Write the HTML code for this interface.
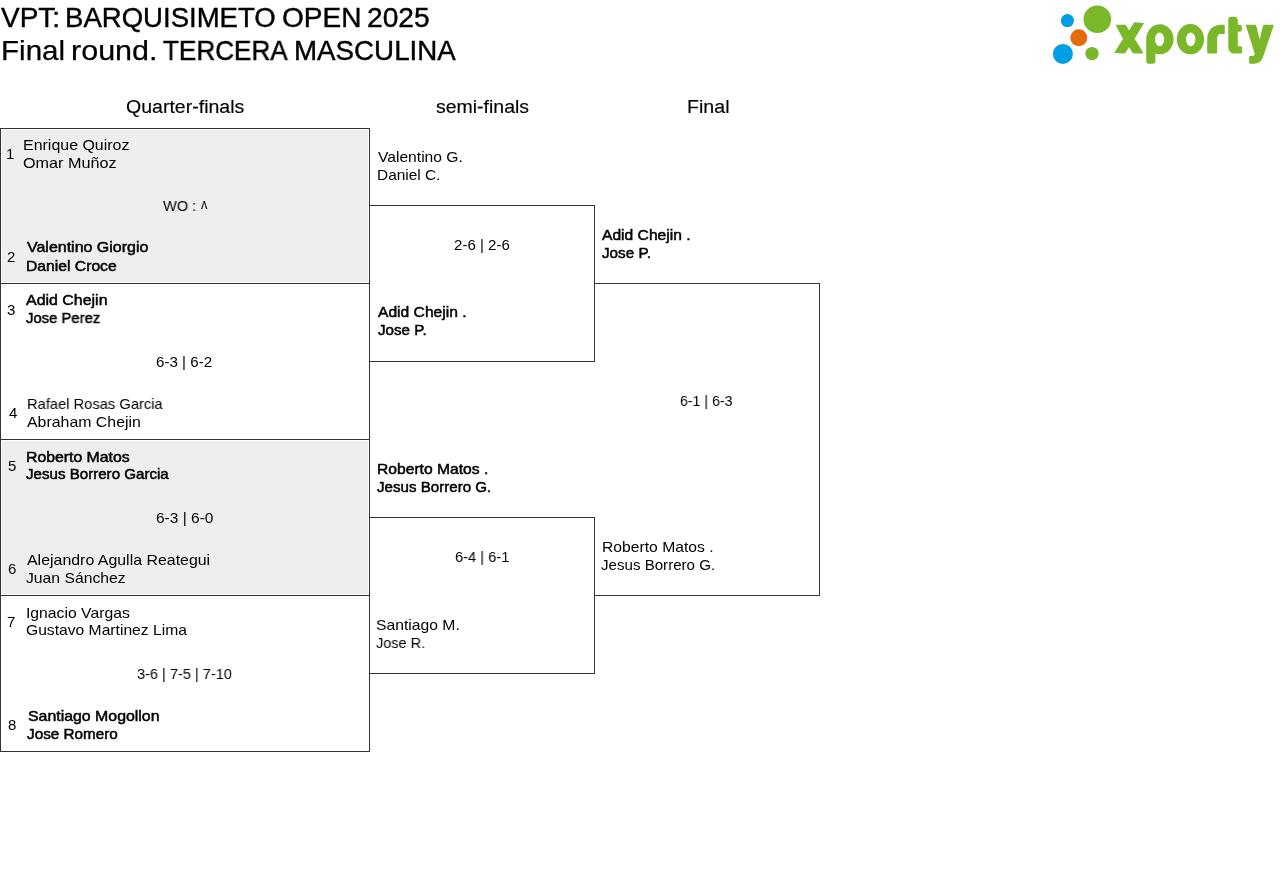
<!DOCTYPE html>
<html><head><meta charset="utf-8"><title>VPT: BARQUISIMETO OPEN 2025</title>
<style>
html,body{margin:0;padding:0;background:#fff;}
body{width:1280px;height:883px;position:relative;overflow:hidden;font-family:"Liberation Sans",sans-serif;color:#000;}
.r{position:absolute;}
.t{position:absolute;white-space:nowrap;line-height:20px;transform-origin:0 0;will-change:transform;}
.logo{position:absolute;left:0;top:0;}
</style></head><body>
<div class="r" style="left:2px;top:130px;width:366px;height:152px;background:#eeeeee"></div><div class="r" style="left:2px;top:441px;width:366px;height:153px;background:#eeeeee"></div><div class="r" style="left:0px;top:128px;width:1px;height:624px;background:#333"></div><div class="r" style="left:369px;top:128px;width:1px;height:624px;background:#333"></div><div class="r" style="left:0px;top:128px;width:370px;height:1px;background:#333"></div><div class="r" style="left:0px;top:283px;width:370px;height:1px;background:#333"></div><div class="r" style="left:0px;top:439px;width:370px;height:1px;background:#333"></div><div class="r" style="left:0px;top:595px;width:370px;height:1px;background:#333"></div><div class="r" style="left:0px;top:751px;width:370px;height:1px;background:#333"></div><div class="r" style="left:369px;top:205px;width:226px;height:1px;background:#333"></div><div class="r" style="left:369px;top:361px;width:226px;height:1px;background:#333"></div><div class="r" style="left:594px;top:205px;width:1px;height:157px;background:#333"></div><div class="r" style="left:369px;top:517px;width:226px;height:1px;background:#333"></div><div class="r" style="left:369px;top:673px;width:226px;height:1px;background:#333"></div><div class="r" style="left:594px;top:517px;width:1px;height:157px;background:#333"></div><div class="r" style="left:594px;top:283px;width:226px;height:1px;background:#333"></div><div class="r" style="left:594px;top:595px;width:226px;height:1px;background:#333"></div><div class="r" style="left:819px;top:283px;width:1px;height:313px;background:#333"></div>
<svg class="logo" width="1280" height="80" viewBox="0 0 1280 80">
<g fill="#009ee2"><circle cx="1067.4" cy="20.6" r="6.6"/><circle cx="1062.9" cy="53.9" r="10"/></g>
<circle cx="1078.8" cy="37.7" r="8.5" fill="#e36c0a"/>
<g fill="#7ab829">
<circle cx="1097.3" cy="19.2" r="13.8"/><circle cx="1092" cy="53.6" r="6.7"/>
<path d="M1116,24.8 L1125.8,24.8 L1129,30.4 L1134.3,22.3 L1144.1,23 L1134.6,38.8 L1143,52.2 L1142.7,53.6 L1133.2,53.6 L1129,47.3 L1124.8,53.6 L1114.2,52.9 L1123,38.8 L1116,25.8 Z"/>
<path fill-rule="evenodd" d="M1146.2,39.2 A13.7,15.1 0 1 1 1155.4,53.5 L1155.4,61 Q1155.4,63.8 1152.6,63.8 L1149,63.8 Q1146.2,63.8 1146.2,61 Z M1155,39.35 A4.55,6.85 0 1 0 1164.1,39.35 A4.55,6.85 0 1 0 1155,39.35 Z"/>
<path fill-rule="evenodd" d="M1176.8,39.2 A13.65,15.1 0 1 0 1204.1,39.2 A13.65,15.1 0 1 0 1176.8,39.2 Z M1186,39.35 A4.7,6.85 0 1 0 1195.4,39.35 A4.7,6.85 0 1 0 1186,39.35 Z"/>
<path d="M1207.2,52.6 L1207.2,40 C1207.2,30 1213,24.8 1221,24.8 L1223.8,24.8 Q1224.8,24.8 1224.8,26 L1224.8,32.9 Q1224.8,33.9 1223.8,33.9 L1221,33.9 C1218.5,33.9 1217.1,36 1217.1,38.5 L1217.1,52.6 Q1217.1,53.6 1216.1,53.6 L1208.2,53.6 Q1207.2,53.6 1207.2,52.6 Z"/>
<path d="M1228.3,19.5 Q1228.3,16.7 1231,16.7 L1234,16.7 Q1237.8,16.7 1237.8,21 L1237.8,24.8 L1239.5,24.8 Q1242,24.8 1242,28.3 Q1242,31.8 1239.5,31.8 L1237.8,31.8 L1237.8,46.2 L1241,46.2 Q1242,46.2 1242,47.5 L1242,52.5 Q1242,53.6 1241,53.6 L1235,53.6 Q1228.3,53.6 1228.3,47 Z"/>
<path d="M1245.6,24.8 L1255,24.8 Q1256,24.8 1256.3,26 L1259.6,39.5 L1263,26 Q1263.5,24.8 1265,24.8 L1273,24.8 Q1274,24.8 1273.6,26 L1263,57 Q1260.5,63.8 1254,63.8 L1250,63.8 Q1249.1,63.8 1249.1,62.8 L1249.1,57 Q1249.1,56.1 1250,56.1 L1252,56.1 Q1254.7,56.1 1254.7,53.6 Z"/>
</g></svg>
<div class="t" style="left:1.40px;top:7.90px;font-size:27.5px;-webkit-text-stroke:0.4px #000;transform:scaleX(1.0179)">VPT:</div><div class="t" style="left:65.40px;top:7.90px;font-size:27.5px;-webkit-text-stroke:0.4px #000;transform:scaleX(1.0019)">BARQUISIMETO</div><div class="t" style="left:281.88px;top:7.90px;font-size:27.5px;-webkit-text-stroke:0.4px #000;transform:scaleX(1.0187)">OPEN</div><div class="t" style="left:367.18px;top:7.90px;font-size:27.5px;-webkit-text-stroke:0.4px #000;transform:scaleX(1.0237)">2025</div><div class="t" style="left:1.45px;top:40.70px;font-size:27.5px;-webkit-text-stroke:0.25px #000;transform:scaleX(1.0750)">Final</div><div class="t" style="left:70.58px;top:40.70px;font-size:27.5px;-webkit-text-stroke:0.25px #000;transform:scaleX(1.1095)">round.</div><div class="t" style="left:162.60px;top:40.70px;font-size:27.5px;-webkit-text-stroke:0.5px #000;transform:scaleX(0.9492)">TERCERA</div><div class="t" style="left:294.48px;top:40.70px;font-size:27.5px;-webkit-text-stroke:0.4px #000;transform:scaleX(1.0082)">MASCULINA</div><div class="t" style="left:125.51px;top:96.90px;font-size:18px;-webkit-text-stroke:0.15px #000;transform:scaleX(1.0852)">Quarter-finals</div><div class="t" style="left:435.82px;top:96.90px;font-size:18px;-webkit-text-stroke:0.15px #000;transform:scaleX(1.0812)">semi-finals</div><div class="t" style="left:686.61px;top:96.90px;font-size:18px;-webkit-text-stroke:0.15px #000;transform:scaleX(1.0892)">Final</div><div class="t" style="left:6.00px;top:144.00px;font-size:15px;transform:scaleX(1.0000)">1</div><div class="t" style="left:22.69px;top:135.00px;font-size:15px;transform:scaleX(1.0638)">Enrique Quiroz</div><div class="t" style="left:22.67px;top:153.00px;font-size:15px;transform:scaleX(1.0794)">Omar Muñoz</div><div class="t" style="left:163.00px;top:196.00px;font-size:15px;transform:scaleX(0.9727)">WO :</div><div class="t" style="left:200.60px;top:193.90px;font-size:15px;transform:scaleX(0.8429)">ʌ</div><div class="t" style="left:7.45px;top:247.00px;font-size:15px;transform:scaleX(1.0000)">2</div><div class="t" style="left:26.60px;top:237.00px;font-size:15px;-webkit-text-stroke:0.5px #000;transform:scaleX(1.0649)">Valentino Giorgio</div><div class="t" style="left:25.55px;top:255.60px;font-size:15px;-webkit-text-stroke:0.5px #000;transform:scaleX(1.0459)">Daniel Croce</div><div class="t" style="left:6.95px;top:300.00px;font-size:15px;transform:scaleX(1.0000)">3</div><div class="t" style="left:26.25px;top:290.25px;font-size:15px;-webkit-text-stroke:0.5px #000;transform:scaleX(1.0625)">Adid Chejin</div><div class="t" style="left:26.25px;top:308.40px;font-size:15px;-webkit-text-stroke:0.5px #000;transform:scaleX(0.9900)">Jose Perez</div><div class="t" style="left:156.49px;top:352.00px;font-size:15px;transform:scaleX(1.0093)">6-3 | 6-2</div><div class="t" style="left:8.70px;top:403.20px;font-size:15px;transform:scaleX(1.0000)">4</div><div class="t" style="left:26.77px;top:393.75px;font-size:15px;transform:scaleX(0.9799)">Rafael Rosas Garcia</div><div class="t" style="left:27.20px;top:411.60px;font-size:15px;transform:scaleX(1.0589)">Abraham Chejin</div><div class="t" style="left:7.50px;top:456.00px;font-size:15px;transform:scaleX(1.0000)">5</div><div class="t" style="left:26.15px;top:446.60px;font-size:15px;-webkit-text-stroke:0.5px #000;transform:scaleX(1.0536)">Roberto Matos</div><div class="t" style="left:26.25px;top:464.40px;font-size:15px;-webkit-text-stroke:0.5px #000;transform:scaleX(1.0074)">Jesus Borrero Garcia</div><div class="t" style="left:155.57px;top:507.50px;font-size:15px;transform:scaleX(1.0333)">6-3 | 6-0</div><div class="t" style="left:7.85px;top:558.60px;font-size:15px;transform:scaleX(1.0000)">6</div><div class="t" style="left:27.20px;top:549.70px;font-size:15px;transform:scaleX(1.0610)">Alejandro Agulla Reategui</div><div class="t" style="left:25.55px;top:567.60px;font-size:15px;transform:scaleX(1.0473)">Juan Sánchez</div><div class="t" style="left:7.25px;top:612.00px;font-size:15px;transform:scaleX(1.0000)">7</div><div class="t" style="left:25.55px;top:602.60px;font-size:15px;transform:scaleX(1.0490)">Ignacio Vargas</div><div class="t" style="left:25.56px;top:620.40px;font-size:15px;transform:scaleX(1.0431)">Gustavo Martinez Lima</div><div class="t" style="left:136.93px;top:663.50px;font-size:15px;transform:scaleX(0.9698)">3-6 | 7-5 | 7-10</div><div class="t" style="left:7.85px;top:714.60px;font-size:15px;transform:scaleX(1.0000)">8</div><div class="t" style="left:27.75px;top:705.70px;font-size:15px;-webkit-text-stroke:0.5px #000;transform:scaleX(1.0585)">Santiago Mogollon</div><div class="t" style="left:27.20px;top:723.60px;font-size:15px;-webkit-text-stroke:0.5px #000;transform:scaleX(1.0180)">Jose Romero</div><div class="t" style="left:377.90px;top:147.00px;font-size:15px;transform:scaleX(1.0413)">Valentino G.</div><div class="t" style="left:376.87px;top:165.00px;font-size:15px;transform:scaleX(1.0271)">Daniel C.</div><div class="t" style="left:453.89px;top:234.80px;font-size:15px;transform:scaleX(1.0056)">2-6 | 2-6</div><div class="t" style="left:377.50px;top:302.30px;font-size:15px;-webkit-text-stroke:0.5px #000;transform:scaleX(1.0417)">Adid Chejin .</div><div class="t" style="left:377.50px;top:320.00px;font-size:15px;-webkit-text-stroke:0.5px #000;transform:scaleX(1.0106)">Jose P.</div><div class="t" style="left:376.76px;top:458.80px;font-size:15px;-webkit-text-stroke:0.5px #000;transform:scaleX(1.0429)">Roberto Matos .</div><div class="t" style="left:377.10px;top:477.10px;font-size:15px;-webkit-text-stroke:0.5px #000;transform:scaleX(1.0080)">Jesus Borrero G.</div><div class="t" style="left:454.62px;top:546.80px;font-size:15px;transform:scaleX(0.9778)">6-4 | 6-1</div><div class="t" style="left:376.05px;top:615.00px;font-size:15px;transform:scaleX(1.0462)">Santiago M.</div><div class="t" style="left:376.13px;top:632.90px;font-size:15px;transform:scaleX(0.9673)">Jose R.</div><div class="t" style="left:602.25px;top:224.75px;font-size:15px;-webkit-text-stroke:0.5px #000;transform:scaleX(1.0417)">Adid Chejin .</div><div class="t" style="left:602.25px;top:242.50px;font-size:15px;-webkit-text-stroke:0.5px #000;transform:scaleX(1.0160)">Jose P.</div><div class="t" style="left:680.06px;top:390.60px;font-size:15px;transform:scaleX(0.9444)">6-1 | 6-3</div><div class="t" style="left:601.85px;top:536.90px;font-size:15px;transform:scaleX(1.0452)">Roberto Matos .</div><div class="t" style="left:601.24px;top:554.75px;font-size:15px;transform:scaleX(1.0068)">Jesus Borrero G.</div>
</body></html>
